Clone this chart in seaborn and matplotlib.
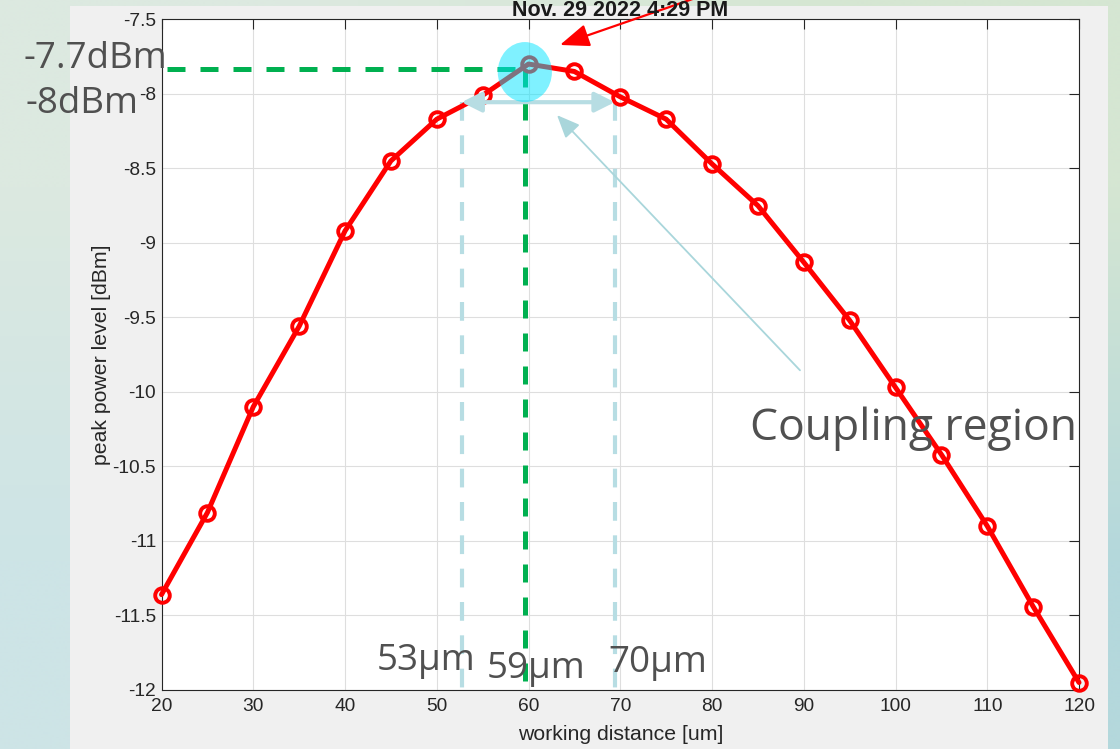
import matplotlib
matplotlib.use("Agg")
import matplotlib.pyplot as plt
import seaborn as sns
import numpy as np
from matplotlib.patches import Ellipse, Rectangle
from matplotlib.ticker import FuncFormatter

# measured peak power vs working distance
distance_um = [20, 25, 30, 35, 40, 45, 50, 55, 60, 65, 70,
               75, 80, 85, 90, 95, 100, 105, 110, 115, 120]
power_dbm = [-11.36, -10.81, -10.10, -9.56, -8.92, -8.45, -8.17, -8.01, -7.80, -7.85, -8.02,
             -8.17, -8.47, -8.75, -9.13, -9.52, -9.97, -10.42, -10.90, -11.44, -11.95]

x_ticks = list(range(20, 121, 10))
y_ticks = [-12, -11.5, -11, -10.5, -10, -9.5, -9, -8.5, -8, -7.5]

peak_x = 59.6
peak_y = -7.83
region_left = 52.7
region_right = 69.4
region_y = -8.056

title_text = "Nov. 29 2022 4:29 PM"
x_label = "working distance [um]"
y_label = "peak power level [dBm]"

sns.set_style("white")
plt.rcParams['font.family'] = ['Liberation Sans', 'DejaVu Sans']

fig = plt.figure(figsize=(11.2, 7.49), dpi=100)

# slide background + matlab figure panel
bg = fig.add_axes([0, 0, 1, 1], zorder=-10)
corners = np.array([[[0xdc, 0xe9, 0xe0], [0xd5, 0xe6, 0xd2]],
                    [[0xcd, 0xe4, 0xe6], [0xb4, 0xd8, 0xdc]]]) / 255.0
bg.imshow(corners, extent=[0, 1, 0, 1], aspect='auto', interpolation='bilinear')
bg.add_patch(Rectangle((70 / 1120, 0), (1108 - 70) / 1120, (749 - 6) / 749,
                       color='#f0f0f0', lw=0))
bg.set_xlim(0, 1)
bg.set_ylim(0, 1)
bg.axis('off')

ax = fig.add_axes([0.1442, 0.0788, 0.8192, 0.8954])
ax.set_facecolor('white')

# reference lines
ax.plot([region_left, region_left], [region_y, -12], color='#b7dde3', lw=3, dashes=(4.5, 3.5), zorder=2)
ax.plot([region_right, region_right], [region_y, -12], color='#b7dde3', lw=3, dashes=(4.5, 3.5), zorder=2)
ax.plot([20.6, peak_x], [peak_y, peak_y], color='#00b050', lw=3.6, dashes=(3.6, 3), zorder=2)
ax.plot([peak_x, peak_x], [peak_y, -12], color='#00b050', lw=3.6, dashes=(3.6, 3), zorder=2)

sns.lineplot(x=distance_um, y=power_dbm, ax=ax, color='red', linewidth=3.6,
             marker='o', markersize=10.5, markerfacecolor='none',
             markeredgecolor='red', markeredgewidth=2.8, clip_on=False, zorder=3)

ax.annotate("", xy=(region_left, region_y), xytext=(region_right, region_y),
            arrowprops=dict(arrowstyle='<|-|>,head_length=0.6,head_width=0.3', color='#b7dde3',
                            lw=3, mutation_scale=20, shrinkA=0, shrinkB=0), zorder=4)
ax.annotate("", xy=(63.11, -8.143), xytext=(89.59, -9.855),
            arrowprops=dict(arrowstyle='-|>,head_length=0.7,head_width=0.3', color='#a9d6db',
                            lw=1.3, mutation_scale=20, shrinkA=0, shrinkB=0), zorder=4)
ax.annotate("", xy=(63.43, -7.672), xytext=(80.87, -7.30),
            arrowprops=dict(arrowstyle='-|>,head_length=0.9,head_width=0.35', color='red',
                            lw=1.6, mutation_scale=20, shrinkA=0, shrinkB=0),
            annotation_clip=False, zorder=6)

ax.add_patch(Ellipse((peak_x, -7.854), width=5.9, height=0.403, color='#00e5ff', alpha=0.5, lw=0, zorder=5))

ax.set_xlim(20, 120)
ax.set_ylim(-12, -7.5)
ax.set_xticks(x_ticks)
ax.set_yticks(y_ticks)
fmt = FuncFormatter(lambda v, p: f"{v:g}")
ax.xaxis.set_major_formatter(fmt)
ax.yaxis.set_major_formatter(fmt)
ax.grid(True, color='#dedede', linewidth=0.8)
ax.set_axisbelow(True)
ax.tick_params(direction='in', length=7, width=0.8, top=True, right=True,
               colors='#262626', labelsize=13.8)
ax.tick_params(axis='x', pad=6)
ax.tick_params(axis='y', pad=4)
for s in ax.spines.values():
    s.set_color('#262626')
    s.set_linewidth(0.8)

ax.set_xlabel(x_label, fontsize=15.3, color='#262626', labelpad=7)
ax.set_ylabel(y_label, fontsize=15.3, color='#262626', labelpad=1)

fig.text(620 / 1120, (749 - 16) / 749, title_text, ha='center', va='baseline',
         fontsize=15.5, fontweight='bold', color='#1a1a1a')

# slide annotations
anno = dict(family=['Open Sans', 'DejaVu Sans'], color='#505050', ha='left', va='baseline',
            clip_on=False, zorder=7)
ax.text(84.14, -10.324, "Coupling region", fontsize=32, **anno)
ax.text(5.0, -7.828, "-7.7dBm", fontsize=26.5, **anno)
ax.text(5.2, -8.13, "-8dBm", fontsize=26.5, **anno)
ax.text(43.45, -11.866, "53µm", fontsize=26.5, **anno)
ax.text(55.44, -11.92, "59µm", fontsize=26.5, **anno)
ax.text(68.67, -11.88, "70µm", fontsize=26.5, **anno)

fig.savefig("out.png", dpi=100)
